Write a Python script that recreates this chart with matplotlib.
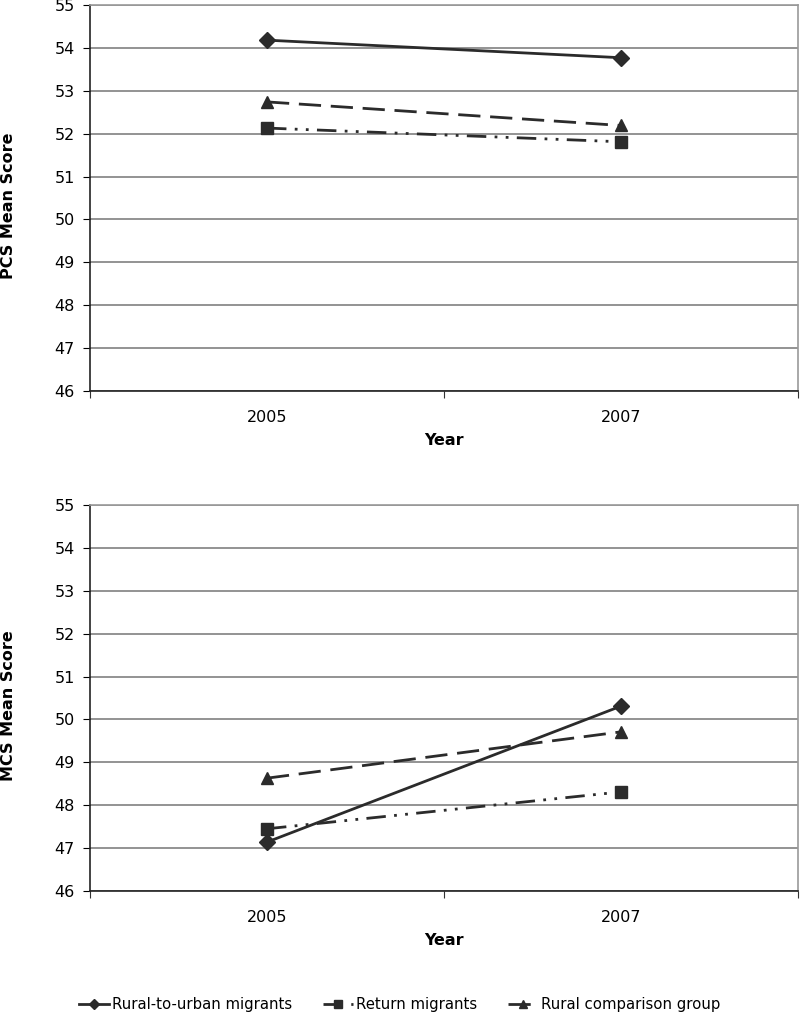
import matplotlib
matplotlib.use("Agg")
import numpy as np
import matplotlib.pyplot as plt

years = ["2005", "2007"]
groups = ["Rural-to-urban migrants", "Return migrants", "Rural comparison group"]
pcs_rural_urban = [54.18, 53.77]
pcs_return = [52.13, 51.81]
pcs_rural = [52.74, 52.19]
mcs_rural_urban = [47.14, 50.31]
mcs_return = [47.45, 48.31]
mcs_rural = [48.63, 49.71]

plt.rcParams['font.family'] = ['DejaVu Sans']
col = "#2b2b2b"
styles = [
    dict(marker="D", markersize=8, linestyle="-"),
    dict(marker="s", markersize=9, linestyle=(0, (7, 3, 1, 3, 1, 3))),
    dict(marker="^", markersize=9, linestyle=(0, (8, 3.5))),
]

fig = plt.figure(figsize=(8, 10.15), dpi=100)
ax1 = fig.add_axes([0.1125, 0.6148, 0.885, 0.3803])
ax2 = fig.add_axes([0.1125, 0.1222, 0.885, 0.3803])

x = np.arange(1, len(years) + 1)
panels = [(ax1, [pcs_rural_urban, pcs_return, pcs_rural], "PCS Mean Score"),
          (ax2, [mcs_rural_urban, mcs_return, mcs_rural], "MCS Mean Score")]

for ax, series, ylab in panels:
    for vals, name, st in zip(series, groups, styles):
        ax.plot(x, vals, color=col, linewidth=2, label=name, **st)
    ax.set_ylim(46, 55)
    ax.set_xlim(0.5, 2.5)
    ax.set_yticks(np.arange(46, 56, 1))
    ax.yaxis.grid(True, color="#808080", linewidth=1.2)
    ax.set_axisbelow(True)
    ax.set_xticks([0.5, 1.5, 2.5])
    ax.set_xticklabels([])
    ax.set_xticks(x, minor=True)
    ax.set_xticklabels(years, minor=True)
    ax.tick_params(axis="x", which="minor", length=0, pad=14, labelsize=11.5)
    ax.tick_params(axis="x", which="major", length=5, direction="out", color="#333333")
    ax.tick_params(axis="y", length=5, direction="out", labelsize=11.5, pad=6)
    for s in ["left", "bottom"]:
        ax.spines[s].set_color("#222222")
        ax.spines[s].set_linewidth(1.2)
    for s in ["right", "top"]:
        ax.spines[s].set_color("#999999")
        ax.spines[s].set_linewidth(1.2)
    ax.set_ylabel(ylab, fontsize=11.5, fontweight="bold")
    ax.yaxis.set_label_coords(-0.104, 0.48)
    ax.set_xlabel("Year", fontsize=11.5, fontweight="bold")
    ax.xaxis.set_label_coords(0.5, -0.108)

handles, labels = ax2.get_legend_handles_labels()
fig.legend(handles, labels, loc="center", bbox_to_anchor=(0.5, 0.01), ncol=3,
           frameon=False, fontsize=10.7, handlelength=2.0, columnspacing=2.1,
           handletextpad=0.2, markerscale=0.7)

fig.savefig("out.png", dpi=100)
